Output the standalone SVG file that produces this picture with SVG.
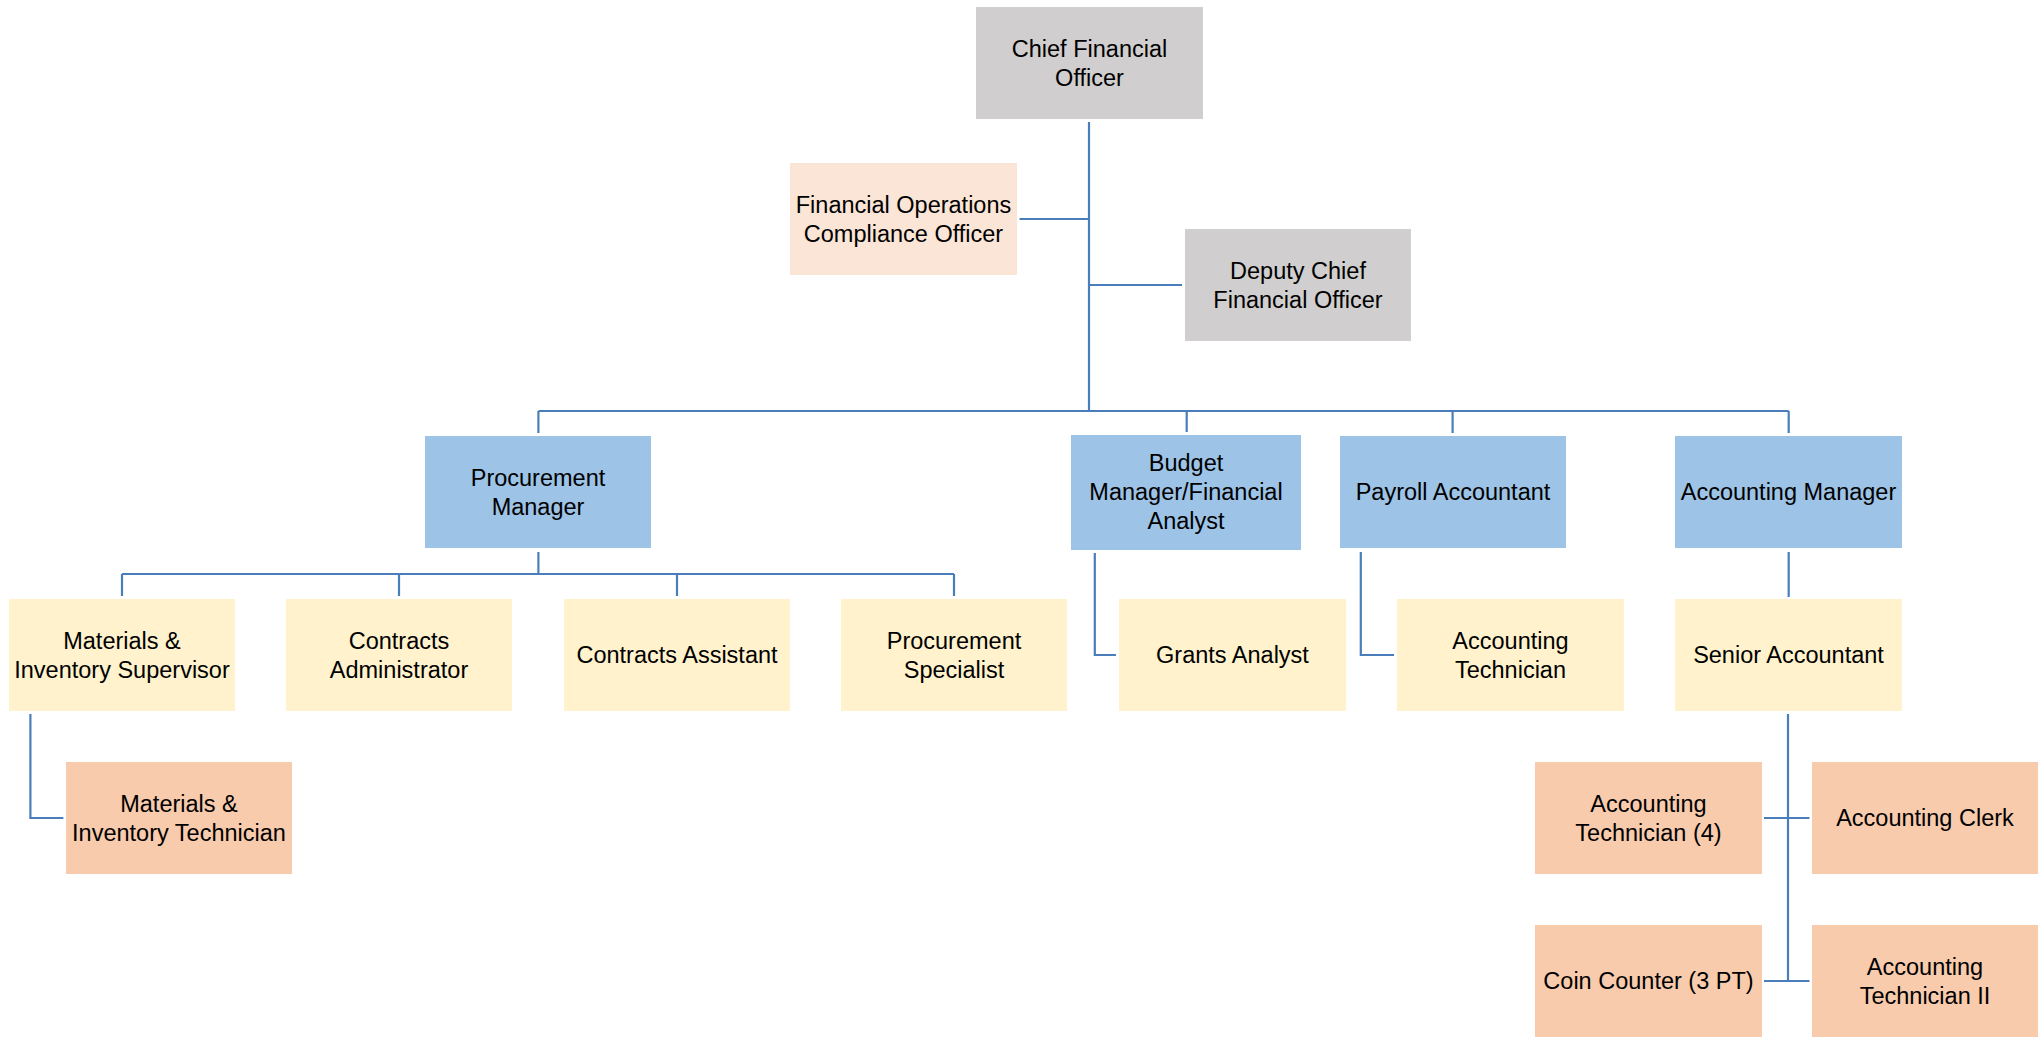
<svg xmlns="http://www.w3.org/2000/svg" width="2038" height="1037" viewBox="0 0 2038 1037">
  <style>
    .grey { fill: #D0CECE; }
    .pale { fill: #FBE5D6; }
    .blue { fill: #9DC3E6; }
    .yellow { fill: #FFF2CC; }
    .peach { fill: #F8CBAD; }
    text { font-family: "Liberation Sans", Arial, sans-serif; font-size: 23.5px; fill: #000; text-anchor: middle; }
    .links path { fill: none; stroke: #4A7EBB; stroke-width: 2.2; }
  </style>
  <rect width="2038" height="1037" fill="#FFFFFF"/>

  <!-- reporting lines -->
  <g class="links" id="connectors">
    <path d="M1089 122 V411"/>
    <path d="M1019.5 219 H1089"/>
    <path d="M1089 285 H1182"/>
    <path d="M538.4 411 H1788.7"/>
    <path d="M538.4 411 V433"/>
    <path d="M1186.7 411 V432"/>
    <path d="M1452.6 411 V433"/>
    <path d="M1788.7 411 V433"/>
    <path d="M538.4 552 V574"/>
    <path d="M122 574 H954"/>
    <path d="M122 574 V596"/>
    <path d="M399 574 V596"/>
    <path d="M677 574 V596"/>
    <path d="M954 574 V596"/>
    <path d="M30.4 714 V818 H63.4"/>
    <path d="M1094.8 553 V655 H1116"/>
    <path d="M1360.8 552 V655 H1394"/>
    <path d="M1788.7 552 V597"/>
    <path d="M1788 714 V981.7"/>
    <path d="M1764 818 H1809.5"/>
    <path d="M1764 981 H1809.5"/>
  </g>

  <g id="cfo">
    <rect class="grey" x="976" y="7" width="227" height="112"/>
    <text x="1089.5" y="57">Chief Financial</text>
    <text x="1089.5" y="86">Officer</text>
  </g>
  <g id="compliance-officer">
    <rect class="pale" x="790" y="163" width="227" height="112"/>
    <text x="903.5" y="213">Financial Operations</text>
    <text x="903.5" y="242">Compliance Officer</text>
  </g>
  <g id="deputy-cfo">
    <rect class="grey" x="1185" y="229" width="226" height="112"/>
    <text x="1298" y="279">Deputy Chief</text>
    <text x="1298" y="308">Financial Officer</text>
  </g>

  <g id="procurement-manager">
    <rect class="blue" x="425" y="436" width="226" height="112"/>
    <text x="538" y="486">Procurement</text>
    <text x="538" y="515">Manager</text>
  </g>
  <g id="budget-manager">
    <rect class="blue" x="1071" y="435" width="230" height="115"/>
    <text x="1186" y="471">Budget</text>
    <text x="1186" y="500">Manager/Financial</text>
    <text x="1186" y="529">Analyst</text>
  </g>
  <g id="payroll-accountant">
    <rect class="blue" x="1340" y="436" width="226" height="112"/>
    <text x="1453" y="500">Payroll Accountant</text>
  </g>
  <g id="accounting-manager">
    <rect class="blue" x="1675" y="436" width="227" height="112"/>
    <text x="1788.5" y="500">Accounting Manager</text>
  </g>

  <g id="materials-supervisor">
    <rect class="yellow" x="9" y="599" width="226" height="112"/>
    <text x="122" y="649">Materials &amp;</text>
    <text x="122" y="678">Inventory Supervisor</text>
  </g>
  <g id="contracts-administrator">
    <rect class="yellow" x="286" y="599" width="226" height="112"/>
    <text x="399" y="649">Contracts</text>
    <text x="399" y="678">Administrator</text>
  </g>
  <g id="contracts-assistant">
    <rect class="yellow" x="564" y="599" width="226" height="112"/>
    <text x="677" y="663">Contracts Assistant</text>
  </g>
  <g id="procurement-specialist">
    <rect class="yellow" x="841" y="599" width="226" height="112"/>
    <text x="954" y="649">Procurement</text>
    <text x="954" y="678">Specialist</text>
  </g>
  <g id="grants-analyst">
    <rect class="yellow" x="1119" y="599" width="227" height="112"/>
    <text x="1232.5" y="663">Grants Analyst</text>
  </g>
  <g id="accounting-technician">
    <rect class="yellow" x="1397" y="599" width="227" height="112"/>
    <text x="1510.5" y="649">Accounting</text>
    <text x="1510.5" y="678">Technician</text>
  </g>
  <g id="senior-accountant">
    <rect class="yellow" x="1675" y="599" width="227" height="112"/>
    <text x="1788.5" y="663">Senior Accountant</text>
  </g>

  <g id="materials-technician">
    <rect class="peach" x="66" y="762" width="226" height="112"/>
    <text x="179" y="812">Materials &amp;</text>
    <text x="179" y="841">Inventory Technician</text>
  </g>
  <g id="accounting-technician-4">
    <rect class="peach" x="1535" y="762" width="227" height="112"/>
    <text x="1648.5" y="812">Accounting</text>
    <text x="1648.5" y="841">Technician (4)</text>
  </g>
  <g id="accounting-clerk">
    <rect class="peach" x="1812" y="762" width="226" height="112"/>
    <text x="1925" y="826">Accounting Clerk</text>
  </g>
  <g id="coin-counter">
    <rect class="peach" x="1535" y="925" width="227" height="112"/>
    <text x="1648.5" y="989">Coin Counter (3 PT)</text>
  </g>
  <g id="accounting-technician-ii">
    <rect class="peach" x="1812" y="925" width="226" height="112"/>
    <text x="1925" y="975">Accounting</text>
    <text x="1925" y="1004">Technician II</text>
  </g>
</svg>
